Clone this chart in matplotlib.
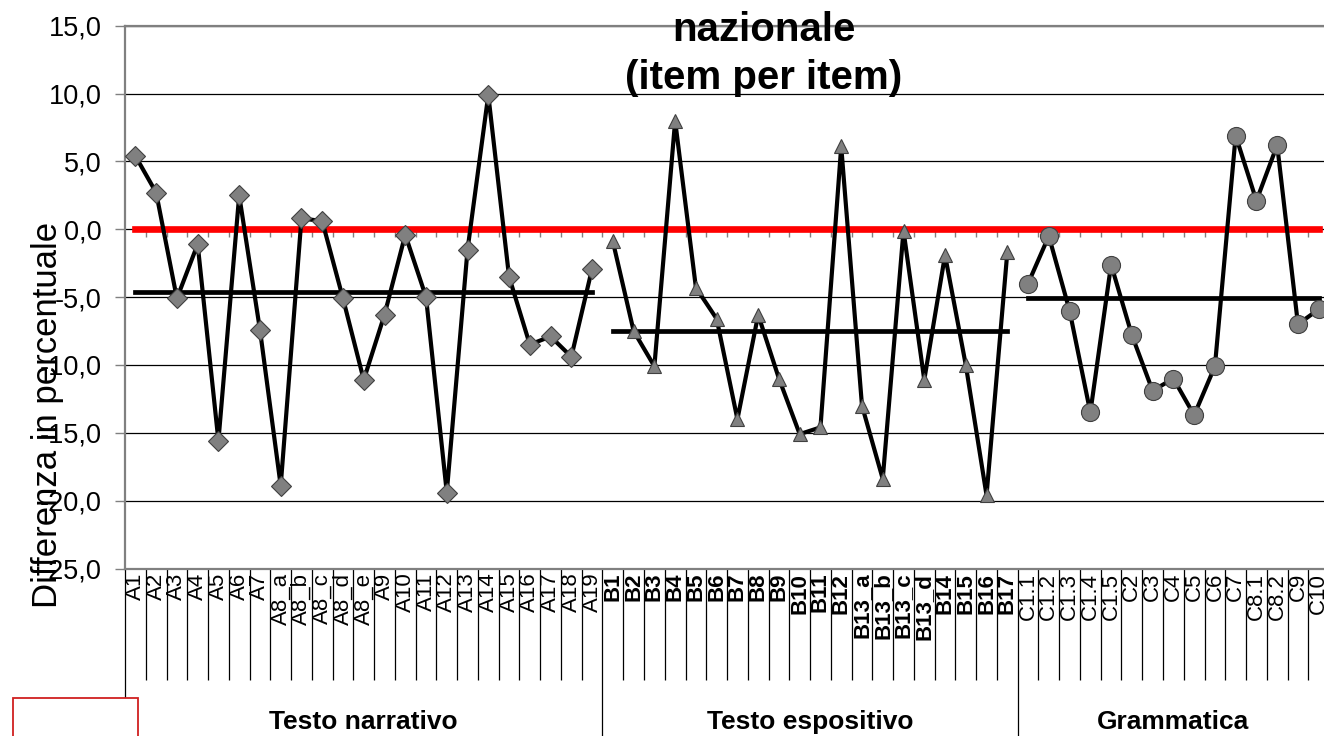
import numpy as np
import matplotlib
matplotlib.use("Agg")
import matplotlib.pyplot as plt
from matplotlib.patches import Rectangle
from matplotlib.transforms import blended_transform_factory

plt.rcParams['font.family'] = ['Liberation Sans', 'DejaVu Sans']

# categorie (item) per gruppo
cat_A = ["A1", "A2", "A3", "A4", "A5", "A6", "A7", "A8_a", "A8_b", "A8_c", "A8_d", "A8_e",
         "A9", "A10", "A11", "A12", "A13", "A14", "A15", "A16", "A17", "A18", "A19"]
cat_B = ["B1", "B2", "B3", "B4", "B5", "B6", "B7", "B8", "B9", "B10", "B11", "B12",
         "B13_a", "B13_b", "B13_c", "B13_d", "B14", "B15", "B16", "B17"]
cat_C = ["C1.1", "C1.2", "C1.3", "C1.4", "C1.5", "C2", "C3", "C4", "C5", "C6", "C7",
         "C8.1", "C8.2", "C9", "C10"]
gruppi = ["Testo narrativo", "Testo espositivo", "Grammatica"]

# differenze in percentuale
val_A = [5.4, 2.7, -5.1, -1.1, -15.6, 2.5, -7.4, -18.9, 0.8, 0.6, -5.1, -11.1,
         -6.3, -0.4, -5.0, -19.4, -1.5, 9.9, -3.5, -8.5, -7.9, -9.4, -2.9]
val_B = [-0.9, -7.5, -10.1, 8.0, -4.3, -6.6, -14.0, -6.3, -11.0, -15.1, -14.6, 6.1,
         -13.0, -18.4, -0.1, -11.1, -1.9, -10.0, -19.6, -1.7]
val_C = [-4.0, -0.5, -6.0, -13.5, -2.6, -7.8, -11.9, -11.0, -13.7, -10.1, 6.9,
         2.1, 6.2, -7.0, -5.9]

# medie di gruppo e riferimento nazionale
media_A = -4.6
media_B = -7.5
media_C = -5.1
riferimento = 0.0

y_ticks = [-25, -20, -15, -10, -5, 0, 5, 10, 15]
y_labels = ["-25,0", "-20,0", "-15,0", "-10,0", "-5,0", "0,0", "5,0", "10,0", "15,0"]

W, H = 1324, 736
fig = plt.figure(figsize=(W / 100, H / 100), dpi=100)
# area del grafico in pixel: x 125..1329, y 25.7..568.5
ax = fig.add_axes([125 / W, (H - 568.5) / H, 58 * 20.76 / W, (568.5 - 25.7) / H])

nA, nB, nC = len(cat_A), len(cat_B), len(cat_C)
xA = np.arange(nA)
xB = nA + np.arange(nB)
xC = nA + nB + np.arange(nC)
x_all = np.arange(nA + nB + nC)
labels = cat_A + cat_B + cat_C

ax.set_xlim(-0.5, len(x_all) - 0.5)
ax.set_ylim(-25, 15)

# linea rossa del riferimento nazionale
ax.plot(x_all, [riferimento] * len(x_all), color='#ff0000', lw=4.8, zorder=2.5)
ax.vlines(x_all[:-1] + 0.5, -0.55, 0, color='#808080', lw=1, zorder=2.4)

# medie
ax.plot(xA, [media_A] * nA, color='black', lw=3.4, zorder=3)
ax.plot(xB, [media_B] * nB, color='black', lw=3.4, zorder=3)
ax.plot(xC, [media_C] * nC, color='black', lw=3.4, zorder=3)

# serie item per item
ax.plot(xA, val_A, color='black', lw=3, marker='D', ms=10,
        mfc='#808080', mec='#404040', mew=0.8, zorder=4)
ax.plot(xB, val_B, color='black', lw=3, marker='^', ms=10.5,
        mfc='#808080', mec='#404040', mew=0.8, zorder=4)
ax.plot(xC, val_C, color='black', lw=3, marker='o', ms=13,
        mfc='#808080', mec='#404040', mew=0.8, zorder=4)

# assi
ax.set_yticks(y_ticks)
ax.set_yticklabels(y_labels, fontsize=19.5)
ax.tick_params(axis='y', length=7, width=1, color='#808080', pad=10)
ax.yaxis.grid(True, color='black', lw=0.9)
ax.set_axisbelow(True)

ax.set_xticks(x_all)
ax.set_xticklabels(labels, rotation=90, fontsize=16)
ax.tick_params(axis='x', length=0, pad=3)
for lab in ax.get_xticklabels()[nA:nA + nB]:
    lab.set_fontweight('bold')

ax.spines['right'].set_visible(False)
for s in ['top', 'left', 'bottom']:
    ax.spines[s].set_color('#808080')
    ax.spines[s].set_linewidth(1.6)

# separatori delle categorie sotto l'asse
trans = blended_transform_factory(ax.transData, ax.transAxes)
confini_gruppi = [-0.5, nA - 0.5, nA + nB - 0.5]
interni = [b for b in x_all[:-1] + 0.5 if b not in confini_gruppi]
ax.vlines(interni, -0.205, 0, transform=trans, clip_on=False, color='black', lw=0.9)
ax.vlines(confini_gruppi, -0.32, 0, transform=trans, clip_on=False, color='black', lw=0.9)

fine_gruppi = confini_gruppi[1:] + [len(x_all) - 0.5]
for nome, a, b in zip(gruppi, confini_gruppi, fine_gruppi):
    ax.text((a + b) / 2, -0.283, nome, transform=trans, ha='center', va='center',
            fontsize=19, fontweight='bold')

# testi
fig.text(47 / W, 1 - 415 / H, "Differenza in percentuale", rotation=90,
         ha='center', va='center', fontsize=25)
fig.text(764 / W, 1 - 41 / H, "nazionale", ha='center', va='baseline',
         fontsize=29, fontweight='bold')
fig.text(764 / W, 1 - 89 / H, "(item per item)", ha='center', va='baseline',
         fontsize=29, fontweight='bold')

# riquadro rosso in basso a sinistra
fig.add_artist(Rectangle((12.6 / W, -0.02), 125.4 / W, (H - 698) / H + 0.02,
                         transform=fig.transFigure, facecolor='white',
                         edgecolor='#d02020', lw=1.3, zorder=5))

fig.savefig("out.png", dpi=100)
